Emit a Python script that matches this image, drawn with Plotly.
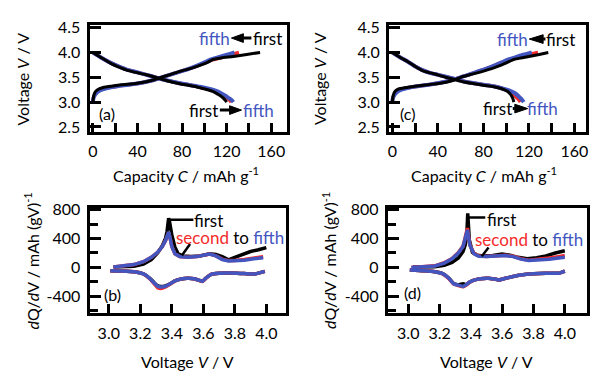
import plotly.graph_objects as go

W, H = 593, 374
BLACK = "#000000"
RED = "#F52A2A"
BLUE = "#4356C0"
FONT = "Lato"

# ---------------- panel (a) charge/discharge ----------------
a_ch1_c = [0, 0.5, 1.5, 3, 6, 10, 16, 25, 37, 48, 55, 60, 70, 78, 88, 96, 103, 108, 115, 126, 138, 150]
a_ch1_v = [3.0, 3.10, 3.18, 3.23, 3.27, 3.30, 3.32, 3.35, 3.37, 3.41, 3.45, 3.49, 3.56, 3.62, 3.68, 3.74, 3.80, 3.86, 3.89, 3.92, 3.96, 4.0]
a_ch2_c = [0, 0.5, 2, 4, 8, 14, 22, 32, 44, 52, 58, 66, 76, 86, 95, 101, 107, 114, 120, 126, 131]
a_ch2_v = [3.0, 3.09, 3.16, 3.21, 3.26, 3.29, 3.32, 3.35, 3.39, 3.43, 3.47, 3.53, 3.60, 3.67, 3.74, 3.80, 3.85, 3.89, 3.93, 3.97, 4.0]
a_ch5_c = [0, 0.5, 2, 4, 8, 14, 22, 32, 44, 52, 58, 66, 76, 86, 94, 100, 106, 112, 118, 123, 127]
a_ch5_v = [3.0, 3.08, 3.15, 3.20, 3.25, 3.29, 3.32, 3.35, 3.39, 3.43, 3.47, 3.53, 3.60, 3.67, 3.74, 3.80, 3.86, 3.90, 3.94, 3.97, 4.0]
a_dis1_c = [0, 8, 16, 24, 31, 40, 48, 56, 62, 70, 78, 88, 96, 103, 108, 112, 115, 117.5, 119, 120]
a_dis1_v = [4.0, 3.89, 3.78, 3.70, 3.64, 3.59, 3.55, 3.50, 3.46, 3.41, 3.37, 3.33, 3.29, 3.25, 3.21, 3.16, 3.12, 3.07, 3.03, 3.0]
a_dis2_c = [0, 8, 16, 24, 31, 40, 48, 56, 62, 70, 78, 88, 96, 104, 109, 114, 118, 121, 123, 124]
a_dis2_v = [4.0, 3.89, 3.79, 3.71, 3.65, 3.60, 3.55, 3.50, 3.46, 3.42, 3.38, 3.34, 3.30, 3.26, 3.22, 3.17, 3.12, 3.07, 3.03, 3.0]
a_dis5_c = [0, 8, 16, 24, 31, 40, 48, 56, 62, 70, 78, 88, 96, 104, 110, 115, 119, 122, 124.5, 126]
a_dis5_v = [4.0, 3.89, 3.79, 3.71, 3.65, 3.60, 3.55, 3.50, 3.46, 3.42, 3.38, 3.34, 3.31, 3.27, 3.23, 3.18, 3.13, 3.08, 3.04, 3.0]

# ---------------- panel (c) charge/discharge ----------------
c_ch1_c = [0, 0.5, 1.5, 3, 6, 11, 20, 31, 42, 49, 55, 60, 68, 78, 88, 95, 101, 107, 113, 120, 129, 137]
c_ch1_v = [3.0, 3.10, 3.18, 3.23, 3.27, 3.29, 3.32, 3.35, 3.38, 3.41, 3.45, 3.50, 3.55, 3.61, 3.68, 3.74, 3.80, 3.86, 3.89, 3.92, 3.96, 4.0]
c_ch2_c = [0, 0.5, 2, 4, 8, 14, 22, 32, 42, 50, 56, 64, 73, 82, 90, 96, 103, 110, 116, 122, 128]
c_ch2_v = [3.0, 3.09, 3.16, 3.21, 3.26, 3.29, 3.32, 3.35, 3.39, 3.43, 3.47, 3.53, 3.60, 3.67, 3.74, 3.80, 3.85, 3.89, 3.93, 3.97, 4.0]
c_ch5_c = [0, 0.5, 2, 4, 8, 14, 22, 32, 42, 50, 56, 64, 73, 82, 90, 96, 102, 108, 113, 118, 122.5]
c_ch5_v = [3.0, 3.08, 3.15, 3.20, 3.25, 3.29, 3.32, 3.35, 3.39, 3.43, 3.47, 3.53, 3.60, 3.67, 3.74, 3.80, 3.86, 3.90, 3.94, 3.97, 4.0]
c_dis1_c = [0, 7, 14, 20, 26, 33, 40, 47, 54, 62, 72, 80, 89, 96, 101, 104, 105.5, 106.3, 106.7]
c_dis1_v = [4.0, 3.90, 3.81, 3.72, 3.64, 3.59, 3.55, 3.50, 3.46, 3.41, 3.37, 3.34, 3.31, 3.27, 3.22, 3.15, 3.09, 3.04, 3.0]
c_dis2_c = [0, 7, 14, 20, 26, 33, 40, 47, 54, 62, 72, 80, 89, 96, 101, 105, 108, 110.5, 112, 112.5]
c_dis2_v = [4.0, 3.90, 3.81, 3.72, 3.65, 3.59, 3.55, 3.51, 3.47, 3.42, 3.38, 3.35, 3.32, 3.28, 3.24, 3.18, 3.12, 3.06, 3.02, 3.0]
c_dis5_c = [0, 7, 14, 20, 26, 33, 40, 47, 54, 62, 72, 80, 89, 96, 102, 107, 110.5, 113, 114.5, 115.4]
c_dis5_v = [4.0, 3.90, 3.81, 3.72, 3.65, 3.59, 3.55, 3.51, 3.47, 3.42, 3.38, 3.35, 3.32, 3.28, 3.24, 3.19, 3.13, 3.07, 3.03, 3.0]

# ---------------- panel (b) dQ/dV ----------------
b_ch1_v = [3.03, 3.10, 3.16, 3.22, 3.27, 3.31, 3.34, 3.36, 3.37, 3.38, 3.385, 3.40, 3.42, 3.44, 3.47, 3.52, 3.58, 3.64, 3.68, 3.72, 3.76, 3.80, 3.85, 3.90, 3.95, 4.00]
b_ch1_q = [5, 10, 18, 45, 110, 200, 300, 400, 500, 680, 640, 450, 280, 190, 160, 150, 160, 190, 180, 150, 105, 140, 185, 220, 245, 275]
b_ch2_v = [3.03, 3.10, 3.16, 3.22, 3.27, 3.31, 3.34, 3.36, 3.37, 3.38, 3.39, 3.40, 3.42, 3.45, 3.50, 3.56, 3.60, 3.64, 3.68, 3.72, 3.76, 3.80, 3.86, 3.92, 3.98]
b_ch2_q = [5, 20, 40, 80, 140, 210, 290, 370, 440, 480, 400, 290, 190, 150, 140, 150, 170, 185, 160, 115, 95, 95, 110, 130, 150]
b_ch5_v = [3.03, 3.10, 3.16, 3.22, 3.27, 3.31, 3.34, 3.36, 3.37, 3.38, 3.39, 3.40, 3.42, 3.45, 3.50, 3.56, 3.60, 3.64, 3.68, 3.72, 3.76, 3.80, 3.86, 3.92, 3.98]
b_ch5_q = [5, 20, 40, 80, 140, 210, 290, 370, 440, 490, 400, 290, 190, 150, 140, 150, 170, 185, 160, 110, 90, 90, 100, 120, 135]
b_dis1_v = [3.01, 3.08, 3.16, 3.22, 3.26, 3.29, 3.31, 3.33, 3.36, 3.39, 3.42, 3.46, 3.50, 3.54, 3.57, 3.595, 3.62, 3.65, 3.70, 3.78, 3.86, 3.93, 3.99]
b_dis1_q = [-45, -50, -60, -90, -150, -215, -255, -265, -255, -225, -185, -160, -150, -155, -175, -190, -140, -95, -80, -78, -85, -90, -55]
b_dis2_v = [3.01, 3.08, 3.16, 3.22, 3.26, 3.29, 3.31, 3.33, 3.36, 3.39, 3.42, 3.46, 3.50, 3.54, 3.57, 3.595, 3.62, 3.65, 3.70, 3.78, 3.86, 3.93, 3.99]
b_dis2_q = [-45, -50, -60, -90, -155, -230, -280, -290, -270, -230, -185, -160, -150, -155, -175, -195, -140, -95, -80, -78, -85, -90, -55]
b_dis5_v = [3.01, 3.08, 3.16, 3.22, 3.26, 3.29, 3.31, 3.33, 3.36, 3.39, 3.42, 3.46, 3.50, 3.54, 3.57, 3.595, 3.62, 3.65, 3.70, 3.78, 3.86, 3.93, 3.99]
b_dis5_q = [-45, -50, -60, -90, -150, -220, -260, -270, -260, -225, -185, -160, -150, -155, -175, -190, -140, -95, -80, -78, -85, -90, -55]

# ---------------- panel (d) dQ/dV ----------------
d_ch1_v = [3.03, 3.10, 3.17, 3.23, 3.28, 3.32, 3.35, 3.365, 3.375, 3.38, 3.385, 3.39, 3.41, 3.44, 3.48, 3.54, 3.60, 3.65, 3.70, 3.76, 3.82, 3.88, 3.94, 4.00]
d_ch1_q = [5, 6, 10, 30, 70, 130, 220, 320, 500, 750, 560, 380, 210, 170, 160, 165, 185, 170, 140, 120, 135, 160, 200, 230]
d_ch2_v = [3.02, 3.10, 3.17, 3.23, 3.28, 3.32, 3.35, 3.36, 3.37, 3.378, 3.385, 3.395, 3.42, 3.45, 3.50, 3.56, 3.62, 3.67, 3.72, 3.77, 3.83, 3.90, 3.96, 4.00]
d_ch2_q = [0, 10, 22, 65, 125, 205, 295, 380, 480, 545, 430, 305, 195, 160, 152, 160, 168, 155, 120, 100, 110, 130, 150, 165]
d_ch5_v = [3.02, 3.10, 3.17, 3.23, 3.28, 3.32, 3.35, 3.36, 3.37, 3.378, 3.385, 3.395, 3.42, 3.45, 3.50, 3.56, 3.62, 3.67, 3.72, 3.77, 3.83, 3.90, 3.96, 4.00]
d_ch5_q = [0, 10, 20, 60, 120, 200, 290, 370, 470, 520, 420, 300, 190, 155, 150, 158, 165, 150, 115, 95, 100, 115, 130, 140]
d_dis1_v = [3.01, 3.10, 3.17, 3.22, 3.26, 3.29, 3.32, 3.35, 3.37, 3.39, 3.42, 3.46, 3.51, 3.55, 3.58, 3.62, 3.67, 3.72, 3.80, 3.88, 3.96, 4.00]
d_dis1_q = [-35, -45, -58, -85, -150, -220, -240, -225, -235, -205, -175, -155, -148, -160, -172, -150, -125, -105, -88, -80, -80, -50]
d_dis2_v = [3.01, 3.10, 3.17, 3.22, 3.26, 3.29, 3.32, 3.35, 3.37, 3.39, 3.42, 3.46, 3.51, 3.55, 3.58, 3.62, 3.67, 3.72, 3.80, 3.88, 3.96, 4.00]
d_dis2_q = [-35, -45, -58, -88, -155, -230, -250, -268, -245, -208, -175, -155, -148, -160, -172, -150, -125, -105, -88, -80, -80, -50]
d_dis5_v = [3.01, 3.10, 3.17, 3.22, 3.26, 3.29, 3.32, 3.35, 3.37, 3.39, 3.42, 3.46, 3.51, 3.55, 3.58, 3.62, 3.67, 3.72, 3.80, 3.88, 3.96, 4.00]
d_dis5_q = [-35, -45, -58, -85, -150, -225, -245, -262, -240, -205, -175, -155, -148, -160, -172, -150, -125, -105, -88, -80, -80, -50]

# tick values / labels
cap_ticks = [0, 40, 80, 120, 160]
volt_ticks_top = [2.5, 3.0, 3.5, 4.0, 4.5]
volt_ticks_bot = [3.0, 3.2, 3.4, 3.6, 3.8, 4.0]
dqdv_ticks = [-400, 0, 400, 800]
dqdv_ticktext = ["-400", "0", "400", "800"]

fig = go.Figure()


def add(x, y, color, xa, ya, width=3.5, shape="spline", smooth=0.6):
    line = dict(color=color, width=width, shape=shape)
    if shape == "spline":
        line["smoothing"] = smooth
    fig.add_trace(go.Scatter(x=x, y=y, mode="lines", line=line,
                             xaxis=xa, yaxis=ya, showlegend=False, hoverinfo="skip"))


# (a): coloured cycles first, first cycle (black) drawn on top
add(a_ch2_c, a_ch2_v, RED, "x", "y")
add(a_dis2_c, a_dis2_v, RED, "x", "y")
add(a_ch5_c, a_ch5_v, BLUE, "x", "y", width=4)
add(a_dis5_c, a_dis5_v, BLUE, "x", "y", width=4)
add(a_ch1_c, a_ch1_v, BLACK, "x", "y", width=3)
add(a_dis1_c, a_dis1_v, BLACK, "x", "y", width=3)
# (c)
add(c_ch2_c, c_ch2_v, RED, "x2", "y2")
add(c_dis2_c, c_dis2_v, RED, "x2", "y2")
add(c_ch5_c, c_ch5_v, BLUE, "x2", "y2", width=4)
add(c_dis5_c, c_dis5_v, BLUE, "x2", "y2", width=4)
add(c_ch1_c, c_ch1_v, BLACK, "x2", "y2", width=3)
add(c_dis1_c, c_dis1_v, BLACK, "x2", "y2", width=3)
# (b)
add(b_ch1_v, b_ch1_q, BLACK, "x3", "y3", shape="linear")
add(b_dis1_v, b_dis1_q, BLACK, "x3", "y3", smooth=0.5)
add(b_ch2_v, b_ch2_q, RED, "x3", "y3", shape="linear")
add(b_dis2_v, b_dis2_q, RED, "x3", "y3", smooth=0.5)
add(b_ch5_v, b_ch5_q, BLUE, "x3", "y3", shape="linear")
add(b_dis5_v, b_dis5_q, BLUE, "x3", "y3", smooth=0.5)
# (d)
add(d_ch1_v, d_ch1_q, BLACK, "x4", "y4", shape="linear")
add(d_dis1_v, d_dis1_q, BLACK, "x4", "y4", smooth=0.5)
add(d_ch2_v, d_ch2_q, RED, "x4", "y4", shape="linear")
add(d_dis2_v, d_dis2_q, RED, "x4", "y4", smooth=0.5)
add(d_ch5_v, d_ch5_q, BLUE, "x4", "y4", shape="linear")
add(d_dis5_v, d_dis5_q, BLUE, "x4", "y4", smooth=0.5)

tickfont = dict(family=FONT, size=16, color="black")
common = dict(showline=True, linewidth=3, linecolor="black", mirror=True,
              ticks="inside", tickwidth=2.5, tickcolor="black", tickfont=tickfont,
              showgrid=False, zeroline=False, fixedrange=True)


def px2x(p):
    return p / W


def px2y(p):
    return 1 - p / H


top_y = [px2y(127), px2y(16.7)]
bot_y = [px2y(314), px2y(206)]
minor_x = dict(dtick=20, tick0=0, ticks="inside", ticklen=9, tickwidth=2.5, tickcolor="black")
minor_y = dict(dtick=200, tick0=0, ticks="inside", ticklen=8, tickwidth=2.5, tickcolor="black")

fig.update_layout(
    width=W, height=H, margin=dict(l=0, r=0, t=0, b=0),
    paper_bgcolor="white", plot_bgcolor="white",
    font=dict(family=FONT, size=16, color="black"),
    xaxis=dict(domain=[px2x(89), px2x(287.3)], range=[-3, 174], anchor="y",
               tickvals=cap_ticks, ticklen=9, ticklabelstandoff=3, minor=minor_x, **common),
    yaxis=dict(domain=top_y, range=[2.40, 4.55], anchor="x",
               tickvals=volt_ticks_top, tickformat=".1f", ticklen=11, ticklabelstandoff=3, **common),
    xaxis2=dict(domain=[px2x(390), px2x(588.3)], range=[-2.9, 170.4], anchor="y2",
                tickvals=cap_ticks, ticklen=9, ticklabelstandoff=3, minor=minor_x, **common),
    yaxis2=dict(domain=top_y, range=[2.40, 4.55], anchor="x2",
                tickvals=volt_ticks_top, tickformat=".1f", ticklen=11, ticklabelstandoff=3, **common),
    xaxis3=dict(domain=[px2x(89), px2x(286)], range=[2.878, 4.122], anchor="y3",
                tickvals=volt_ticks_bot, tickformat=".1f", ticklen=9, ticklabelstandoff=4, **common),
    yaxis3=dict(domain=bot_y, range=[-629, 817], anchor="x3",
                tickvals=dqdv_ticks, ticktext=dqdv_ticktext, ticklen=11, ticklabelstandoff=3,
                minor=minor_y, **common),
    xaxis4=dict(domain=[px2x(388.7), px2x(588.7)], range=[2.869, 4.14], anchor="y4",
                tickvals=volt_ticks_bot, tickformat=".1f", ticklen=9, ticklabelstandoff=4, **common),
    yaxis4=dict(domain=bot_y, range=[-629, 817], anchor="x4",
                tickvals=dqdv_ticks, ticktext=dqdv_ticktext, ticklen=11, ticklabelstandoff=3,
                minor=minor_y, **common),
)

ann = []


def text(x, y, s, xref="paper", yref="paper", color="black", angle=0, size=16):
    ann.append(dict(x=x, y=y, xref=xref, yref=yref, text=s, showarrow=False, textangle=angle,
                    xanchor="center", yanchor="middle",
                    font=dict(family=FONT, size=size, color=color)))


# axis titles
text(px2x(22), px2y(72), "Voltage <i>V</i> / V", angle=-90)
text(px2x(320), px2y(72), "Voltage <i>V</i> / V", angle=-90)
text(px2x(186), px2y(171), "Capacity <i>C</i> / mAh g<sup>-1</sup>")
text(px2x(485), px2y(171), "Capacity <i>C</i> / mAh g<sup>-1</sup>")
text(px2x(31), px2y(260), "<i>d</i>Q/<i>d</i>V / mAh (gV)<sup>-1</sup>", angle=-90)
text(px2x(330), px2y(260), "<i>d</i>Q/<i>d</i>V / mAh (gV)<sup>-1</sup>", angle=-90)
text(px2x(187.5), px2y(364), "Voltage <i>V</i> / V")
text(px2x(487.7), px2y(364), "Voltage <i>V</i> / V")

# panel labels
text(12.8, 2.77, "(a)", "x", "y")
text(13.2, 2.77, "(c)", "x2", "y2")
text(3.021, -373, "(b)", "x3", "y3")
text(3.025, -350, "(d)", "x4", "y4")

AS = 17
# (a) annotations
text(109.5, 4.29, "fifth", "x", "y", color=BLUE, size=AS)
text(157, 4.29, "first", "x", "y", size=AS)
text(99, 2.84, "first", "x", "y", size=AS)
text(148.8, 2.84, "fifth", "x", "y", color=BLUE, size=AS)
# (c) annotations
text(105.8, 4.27, "fifth", "x2", "y2", color=BLUE, size=AS)
text(147.8, 4.27, "first", "x2", "y2", size=AS)
text(92.8, 2.87, "first", "x2", "y2", size=AS)
text(131.9, 2.87, "fifth", "x2", "y2", color=BLUE, size=AS)

# (b)/(d) labels
stf = '<span style="color:%s">second</span> to <span style="color:%s">fifth</span>' % (RED, BLUE)
text(3.635, 650, "first", "x3", "y3", size=AS)
text(3.769, 415, stf, "x3", "y3", size=AS)
text(3.597, 670, "first", "x4", "y4", size=AS)
text(3.772, 385, stf, "x4", "y4", size=AS)

fig.update_layout(annotations=ann)

shapes = []


def seg(x0, y0, x1, y1, xr, yr, w=2.5):
    shapes.append(dict(type="line", x0=x0, y0=y0, x1=x1, y1=y1, xref=xr, yref=yr,
                       line=dict(color="black", width=w)))


def arrow(tail, tip, y, head_px, half_px, xs, ys, xr, yr):
    d = 1 if tip > tail else -1
    base = tip - d * head_px / xs
    if abs(base - tail) * xs > 1:
        seg(tail, y, base, y, xr, yr, w=3)
    hh = half_px / ys
    shapes.append(dict(type="path", xref=xr, yref=yr,
                       path="M %f %f L %f %f L %f %f Z" % (tip, y, base, y + hh, base, y - hh),
                       fillcolor="black", line=dict(color="black", width=1)))


arrow(142.2, 124.3, 4.29, 12, 4.5, 1.121, 51.4, "x", "y")
arrow(113.9, 133.3, 2.84, 12, 4.5, 1.121, 51.4, "x", "y")
arrow(134.5, 120.3, 4.27, 14, 4.5, 1.15, 51.4, "x2", "y2")
arrow(105.8, 118.9, 2.87, 13, 4.5, 1.15, 51.4, "x2", "y2")

seg(3.379, 660, 3.537, 660, "x3", "y3")
seg(3.464, 166, 3.516, 323, "x3", "y3")
seg(3.378, 690, 3.492, 690, "x4", "y4")
seg(3.47, 156, 3.513, 277, "x4", "y4")
fig.update_layout(shapes=shapes)

fig.write_html("out.html")
